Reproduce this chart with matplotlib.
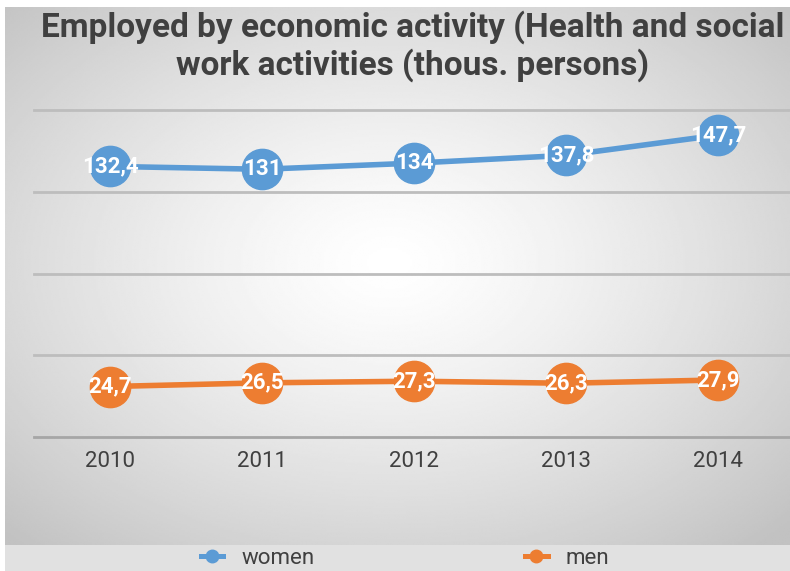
import matplotlib
matplotlib.use("Agg")
import matplotlib.pyplot as plt
import numpy as np
from matplotlib.lines import Line2D

# data
years = ["2010", "2011", "2012", "2013", "2014"]
women = [132.4, 131, 134, 137.8, 147.7]
men = [24.7, 26.5, 27.3, 26.3, 27.9]
women_labels = ["132,4", "131", "134", "137,8", "147,7"]
men_labels = ["24,7", "26,5", "27,3", "26,3", "27,9"]
grid_values = [0, 40, 80, 120, 160]

title = "Employed by economic activity (Health and social\nwork activities (thous. persons)"

BLUE = "#5B9BD5"
ORANGE = "#ED7D31"
TEXT = "#404040"
FONT = ["Roboto", "DejaVu Sans"]

plt.rcParams['font.family'] = FONT

W, H = 790, 571
fig = plt.figure(figsize=(W / 100, H / 100), dpi=100)
fig.patch.set_facecolor("white")

# radial gradient background panel
bg = fig.add_axes([5 / W, 26 / H, 1 - 5 / W, 1 - 33 / H])
bg.set_axis_off()
gx, gy = np.meshgrid(np.linspace(-1, 1, 400), np.linspace(-1, 1, 300))
r = np.sqrt((gx + 0.02) ** 2 + (gy + 0.05) ** 2) / np.sqrt(2)
shade = 1.0 - 0.24 * np.clip(r, 0, 1) ** 1.3
bg.imshow(shade, cmap="gray", vmin=0, vmax=1, aspect="auto",
          extent=[0, 1, 0, 1], interpolation="bilinear")

# legend band at the bottom
band = fig.add_axes([5 / W, 0, 1 - 5 / W, 26 / H])
band.set_axis_off()
band.add_patch(plt.Rectangle((0, 0), 1, 1, color="#e1e1e1", transform=band.transAxes))

# main plot area
ax = fig.add_axes([34 / W, 1 - 437 / H, 760 / W, (437 - 110) / H])
ax.patch.set_alpha(0)
x = np.arange(len(years))
ax.set_xlim(-0.5, len(years) - 0.5)
ax.set_ylim(grid_values[0], grid_values[-1])

for g in grid_values:
    ax.axhline(g, color="#bdbdbd" if g else "#a6a6a6", lw=2, zorder=1, clip_on=False)

ax.plot(x, women, color=BLUE, lw=4, marker="o", ms=29, zorder=3, clip_on=False)
ax.plot(x, men, color=ORANGE, lw=4, marker="o", ms=29, zorder=3, clip_on=False)

for xi, v, lab in zip(x, women, women_labels):
    ax.text(xi, v, lab, color="white", fontsize=16, fontweight="bold",
            ha="center", va="center", zorder=4)
for xi, v, lab in zip(x, men, men_labels):
    ax.text(xi, v, lab, color="white", fontsize=16, fontweight="bold",
            ha="center", va="center", zorder=4)

ax.set_xticks(x)
ax.set_xticklabels(years, fontsize=16, color=TEXT)
ax.tick_params(axis="x", length=0, pad=10)
ax.set_yticks([])
for s in ax.spines.values():
    s.set_visible(False)

fig.text(413 / W, 1 - 46 / H, title, ha="center", va="center", fontsize=24,
         fontweight="bold", color=TEXT, linespacing=1.15)

handles = [
    Line2D([], [], color=BLUE, lw=3.6, marker="o", ms=9),
    Line2D([], [], color=ORANGE, lw=3.6, marker="o", ms=9),
]
fig.legend(handles, ["women", "men"], loc="center", bbox_to_anchor=(405 / W, 13 / H),
           ncol=2, frameon=False, fontsize=16, labelcolor=TEXT, columnspacing=9.5,
           handlelength=1.0, handletextpad=0.8)

fig.savefig("out.png", dpi=100)
